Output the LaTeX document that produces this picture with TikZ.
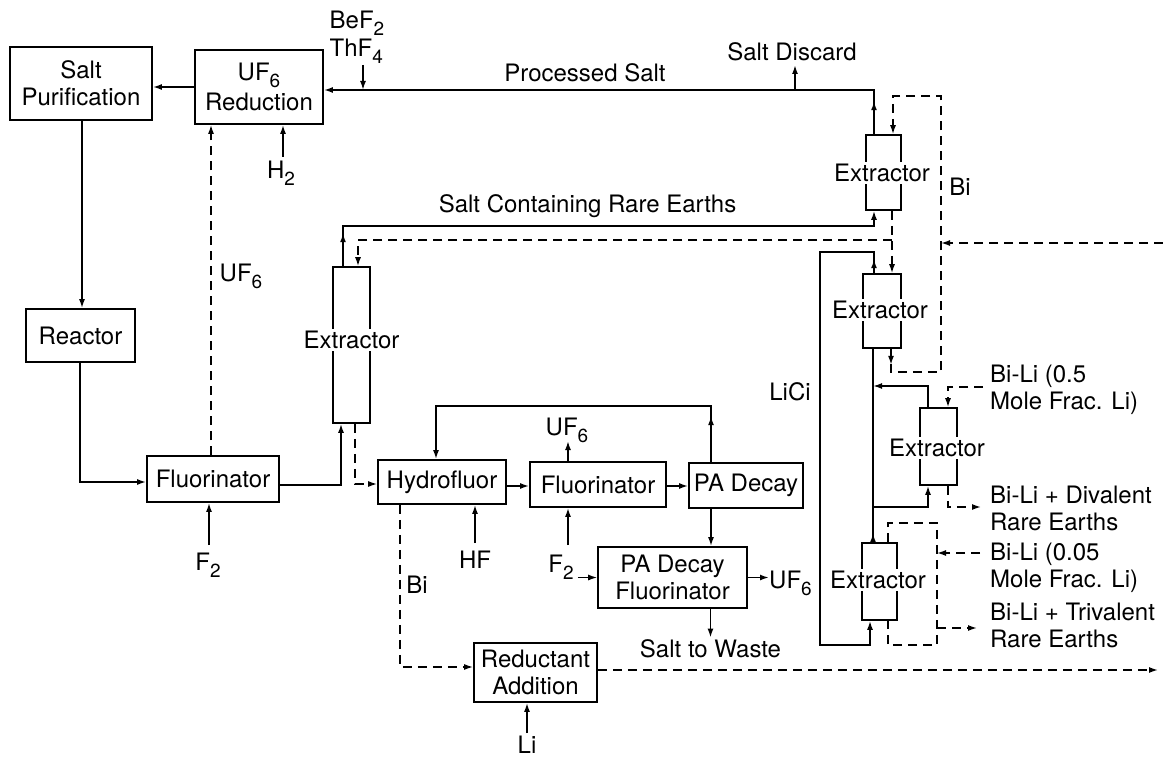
\documentclass[tikz,border=0pt]{standalone}
\usepackage{fontspec}
\setmainfont{TeX Gyre Heros}
\usetikzlibrary{arrows.meta,decorations.markings}
\newcommand\sbs[1]{\raisebox{-0.3em}{\fontsize{19}{19}\selectfont #1}}
\begin{document}
\begin{tikzpicture}[x=1pt,y=-1pt,
  every node/.style={font=\fontsize{24}{27}\selectfont, inner sep=0pt},
  unit/.style={draw, line width=1.7pt, align=center},
  col/.style={draw, line width=1.6pt},
  coltext/.style={fill=white, inner sep=2pt},
  sline/.style={line width=1.7pt},
  dline/.style={line width=1.5pt, dash pattern=on 9pt off 6pt},
  tip/.style={-{Latex[length=9pt,width=6pt]}},
  arrowat/.style={postaction={decorate, decoration={markings, mark=at position #1 with {\arrow{Latex[length=9pt,width=6pt]}}}}},
  lab/.style={align=left, anchor=west}
]
\useasboundingbox (0,0) rectangle (1163,757);
\fill[white] (0,0) rectangle (1163,757);

% ---- units ----
\node[unit, minimum width=142pt, minimum height=73pt] (saltp) at (81,83.5) {Salt\\Purification};
\node[unit, minimum width=128pt, minimum height=74pt] (uf6red) at (259,87) {UF\sbs{6}\\[3pt]Reduction};
\node[unit, minimum width=109pt, minimum height=53pt] (reactor) at (80.5,335.5) {Reactor};
\node[unit, minimum width=132pt, minimum height=46pt] (fluor1) at (213,479) {Fluorinator};
\node[col, minimum width=37pt, minimum height=156pt] (ext1) at (351.5,345) {};
\node[coltext] (ext1t) at (351.5,340) {Extractor};
\node[unit, minimum width=128pt, minimum height=44pt] (hydro) at (442,482) {Hydrofluor};
\node[unit, minimum width=136pt, minimum height=45pt] (fluor2) at (598,484.5) {Fluorinator};
\node[unit, minimum width=114pt, minimum height=45pt] (padecay) at (746,485.5) {PA Decay};
\node[unit, minimum width=149pt, minimum height=61pt] (padf) at (672.5,577.5) {PA Decay\\Fluorinator};
\node[unit, minimum width=123pt, minimum height=59pt] (reduct) at (535.5,672.5) {Reductant\\Addition};

\node[col, minimum width=35pt, minimum height=75pt] (extA) at (883.5,172.5) {};
\node[coltext] (extAt) at (882,173) {Extractor};
\node[col, minimum width=38pt, minimum height=74pt] (extB) at (882,311) {};
\node[coltext] (extBt) at (880,310) {Extractor};
\node[col, minimum width=37pt, minimum height=77pt] (extC) at (938.5,446.5) {};
\node[coltext] (extCt) at (937,448) {Extractor};
\node[col, minimum width=35pt, minimum height=77pt] (extD) at (879.5,581.5) {};
\node[coltext] (extDt) at (878,580) {Extractor};

% ---- labels ----
\node[align=left] (beflab) at (357,37) {BeF\sbs{2}\\[1pt]ThF\sbs{4}};
\node (pslab) at (585,73) {Processed Salt};
\node (sdlab) at (792,52) {Salt Discard};
\node (sclab) at (587.5,206) {Salt Containing Rare Earths};
\node (uf6lab) at (241,276) {UF\sbs{6}};
\node (h2lab) at (281,173) {H\sbs{2}};
\node (f2lab) at (208,565) {F\sbs{2}};
\node (hflab) at (475,560) {HF};
\node (f2blab) at (561,567) {F\sbs{2}};
\node (uf6blab) at (567,430) {UF\sbs{6}};
\node[anchor=west] (uf6clab) at (769,583) {UF\sbs{6}};
\node (stwlab) at (710.5,649) {Salt to Waste};
\node (bilab) at (417,585) {Bi};
\node (lilab) at (527,745) {Li};
\node (bi2lab) at (960,187) {Bi};
\node (liclab) at (790,392) {LiCi};
\node[lab] (l05) at (990,390) {Bi-Li (0.5\\Mole Frac. Li)};
\node[lab] (ldiv) at (990,508) {Bi-Li + Divalent\\Rare Earths};
\node[lab] (l005) at (990,568) {Bi-Li (0.05\\Mole Frac. Li)};
\node[lab] (ltri) at (990,625) {Bi-Li + Trivalent\\Rare Earths};

% ---- coordinates ----
\coordinate (spx) at (82,200);
\coordinate (rf) at (80,482);
\coordinate (udx) at (211,300);
\coordinate (h2) at (283,157);
\coordinate (f2a) at (209,545);
\coordinate (bef) at (363,65);
\coordinate (psC) at (874,90);
\coordinate (sd) at (795,65);
\coordinate (e1in) at (341,485);
\coordinate (e1out) at (355,484);
\coordinate (scL) at (343,226);
\coordinate (scR) at (874,226);
\coordinate (dJ) at (892,240);
\coordinate (dL) at (358,240);
\coordinate (biBL) at (891,372);
\coordinate (biR) at (941,372);
\coordinate (biTR) at (941,96);
\coordinate (biTL) at (893,96);
\coordinate (biin) at (1163,243);
\coordinate (lcT) at (874,252);
\coordinate (lcTL) at (820,252);
\coordinate (lcBL) at (820,645);
\coordinate (lcB) at (870,645);
\coordinate (mv) at (873,507);
\coordinate (cB) at (928,507);
\coordinate (cT) at (928,386);
\coordinate (bl5) at (983,387);
\coordinate (bl5c) at (948,387);
\coordinate (dvc) at (948,507);
\coordinate (dvo) at (981,507);
\coordinate (dl1) at (888,523);
\coordinate (dl2) at (937,523);
\coordinate (dl3) at (937,645);
\coordinate (dl4) at (888,645);
\coordinate (b05) at (980,553);
\coordinate (tro) at (977,628);
\coordinate (hlR) at (711,406);
\coordinate (hlL) at (436,406);
\coordinate (hf) at (518,486);
\coordinate (fu) at (568,441);
\coordinate (ff) at (568,545);
\coordinate (hfa) at (475,543);
\coordinate (bi2) at (400,667);
\coordinate (rdo) at (1158,670);

% ---- connectors ----
\draw[sline,tip] (uf6red.west) -- (uf6red.west -| saltp.east);
\draw[sline,tip] (saltp.south -| spx) -- (reactor.north -| spx);
\draw[sline,tip] (reactor.south -| rf) -- (rf) -- (rf -| fluor1.west);
\draw[dline,tip] (fluor1.north -| udx) -- (uf6red.south -| udx);
\draw[sline,tip] (h2) -- (h2 |- uf6red.south);
\draw[sline,tip] (f2a) -- (f2a |- fluor1.south);
\draw[sline,tip] (bef) -- (bef |- psC);
\draw[sline,tip,arrowat=33pt] (extA.north -| psC) -- (psC) -- (psC -| uf6red.east);
\draw[sline,tip] (sd |- psC) -- (sd);
\draw[sline,tip] (fluor1.east |- e1in) -- (e1in) -- (e1in |- ext1.south);
\draw[dline,tip] (e1out |- ext1.south) -- (e1out) -- (e1out -| hydro.west);
\draw[sline,tip,arrowat=33pt] (scL |- ext1.north) -- (scL) -- (scR) -- (scR |- extA.south);
\draw[dline,tip] (dJ) -- (dL) -- (dL |- ext1.north);
\draw[dline,tip] (dJ |- extA.south) -- (dJ |- extB.north);
\draw[dline,tip,arrowat=16pt] (biBL |- extB.south) -- (biBL) -- (biR) -- (biTR) -- (biTL) -- (biTL |- extA.north);
\draw[dline,tip] (biin) -- (biin -| biR);
\draw[sline,tip,arrowat=14pt] (lcT |- extB.north) -- (lcT) -- (lcTL) -- (lcBL) -- (lcB) -- (lcB |- extD.south);
\draw[sline,arrowat=9pt] (mv |- extD.north) -- (mv |- extB.south);
\draw[sline,tip] (mv) -- (cB) -- (cB |- extC.south);
\draw[sline,tip] (cT |- extC.north) -- (cT) -- (cT -| mv);
\draw[dline,tip] (bl5) -- (bl5c) -- (bl5c |- extC.north);
\draw[dline,tip] (dvc |- extC.south) -- (dvc) -- (dvo);
\draw[dline] (dl1 |- extD.north) -- (dl1) -- (dl2) -- (dl3) -- (dl4) -- (dl4 |- extD.south);
\draw[dline,tip] (b05) -- (b05 -| dl2);
\draw[dline,tip] (tro -| dl2) -- (tro);
\draw[sline,tip,arrowat=46pt] (hlR |- padecay.north) -- (hlR) -- (hlL) -- (hlL |- hydro.north);
\draw[sline,tip] (hydro.east |- hf) -- (fluor2.west |- hf);
\draw[sline,tip] (fluor2.east |- hf) -- (padecay.west |- hf);
\draw[sline,tip] (fu |- fluor2.north) -- (fu);
\draw[sline,tip] (ff) -- (ff |- fluor2.south);
\draw[sline,tip] (hfa) -- (hfa |- hydro.south);
\draw[line width=1.3pt,tip] ([xshift=4pt]f2blab.east |- padf.west) -- (padf.west);
\draw[sline,tip] (padecay.south -| hlR) -- (padf.north -| hlR);
\draw[sline,tip] (padf.east) -- (uf6clab.west |- padf.east);
\draw[sline,tip] (padf.south -| stwlab) -- ([yshift=2pt]stwlab.north);
\draw[dline,tip] (bi2 |- hydro.south) -- (bi2) -- (bi2 -| reduct.west);
\draw[sline,tip] ([yshift=3pt]lilab.north) -- (lilab.north |- reduct.south);
\draw[dline,tip] (reduct.east |- rdo) -- (rdo);
\end{tikzpicture}
\end{document}
